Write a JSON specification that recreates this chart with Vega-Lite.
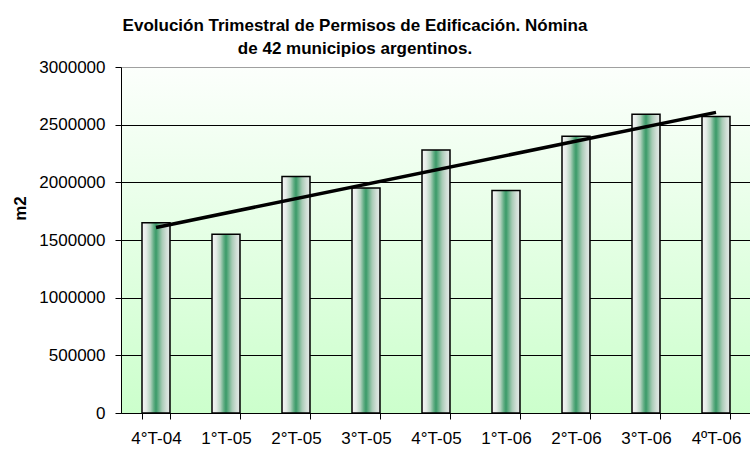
{
  "$schema": "https://vega.github.io/schema/vega-lite/v6.json",
  "width": 630,
  "height": 346,
  "autosize": {"type": "none"},
  "padding": {"left": 121, "top": 67, "right": 0, "bottom": 36},
  "background": "white",
  "title": {
    "text": ["Evolución Trimestral de Permisos de Edificación. Nómina", "de 42 municipios argentinos."],
    "font": "Liberation Sans",
    "fontSize": 17,
    "fontWeight": "bold",
    "color": "black",
    "anchor": "middle",
    "frame": "group",
    "dx": -81,
    "offset": 0,
    "lineHeight": 23
  },
  "datasets": {
    "permisos": [
      {"idx": 1, "label": "4°T-04", "value": 1650000},
      {"idx": 2, "label": "1°T-05", "value": 1550000},
      {"idx": 3, "label": "2°T-05", "value": 2050000},
      {"idx": 4, "label": "3°T-05", "value": 1950000},
      {"idx": 5, "label": "4°T-05", "value": 2280000},
      {"idx": 6, "label": "1°T-06", "value": 1930000},
      {"idx": 7, "label": "2°T-06", "value": 2400000},
      {"idx": 8, "label": "3°T-06", "value": 2590000},
      {"idx": 9, "label": "4ºT-06", "value": 2570000}
    ]
  },
  "data": {"name": "permisos"},
  "config": {
    "view": {
      "stroke": null,
      "fill": {
        "gradient": "linear",
        "x1": 0, "y1": 0, "x2": 0, "y2": 1,
        "stops": [
          {"offset": 0, "color": "#fcfffc"},
          {"offset": 1, "color": "#ccffcc"}
        ]
      }
    },
    "axis": {
      "labelFont": "Liberation Sans",
      "titleFont": "Liberation Sans",
      "labelColor": "black",
      "titleColor": "black",
      "domainColor": "black",
      "tickColor": "black",
      "labelFontSize": 17
    }
  },
  "layer": [
    {
      "mark": {
        "type": "bar",
        "stroke": "black",
        "strokeWidth": 1.5,
        "fill": {
          "gradient": "linear",
          "x1": 0, "y1": 0, "x2": 1, "y2": 0,
          "stops": [
            {"offset": 0, "color": "#f6f6f6"},
            {"offset": 0.15, "color": "#e4ebe7"},
            {"offset": 0.3, "color": "#b5d3c0"},
            {"offset": 0.42, "color": "#62ad84"},
            {"offset": 0.5, "color": "#3a9a68"},
            {"offset": 0.58, "color": "#62ad84"},
            {"offset": 0.72, "color": "#a9cbb6"},
            {"offset": 0.88, "color": "#d3dfd8"},
            {"offset": 1, "color": "#e6ebe8"}
          ]
        }
      },
      "encoding": {
        "x": {
          "field": "label",
          "type": "nominal",
          "sort": null,
          "scale": {"paddingInner": 0.6, "paddingOuter": 0.3},
          "axis": {
            "title": null,
            "labelAngle": 0,
            "tickBand": "extent",
            "tickSize": 6,
            "labelPadding": 11,
            "domainWidth": 1
          }
        },
        "y": {
          "field": "value",
          "type": "quantitative",
          "scale": {"domain": [0, 3000000]},
          "axis": {
            "title": "m2",
            "titleFontSize": 17,
            "titleFontWeight": "bold",
            "titleAngle": -90,
            "titleX": -101,
            "titleY": 141,
            "titleAlign": "center",
            "titleBaseline": "middle",
            "values": [0, 500000, 1000000, 1500000, 2000000, 2500000, 3000000],
            "format": "d",
            "tickSize": 6,
            "labelPadding": 10,
            "grid": true,
            "gridColor": {"condition": {"test": "datum.value === 3000000", "value": "#a0a0a0"}, "value": "black"},
            "gridWidth": 1,
            "domainWidth": 1
          }
        }
      }
    },
    {
      "transform": [
        {"regression": "value", "on": "idx", "as": ["idx", "trend"]},
        {"lookup": "idx", "from": {"data": {"name": "permisos"}, "key": "idx", "fields": ["label"]}}
      ],
      "mark": {"type": "line", "color": "black", "strokeWidth": 3.5},
      "encoding": {
        "x": {"field": "label", "type": "nominal", "sort": null},
        "y": {"field": "trend", "type": "quantitative"}
      }
    }
  ]
}
